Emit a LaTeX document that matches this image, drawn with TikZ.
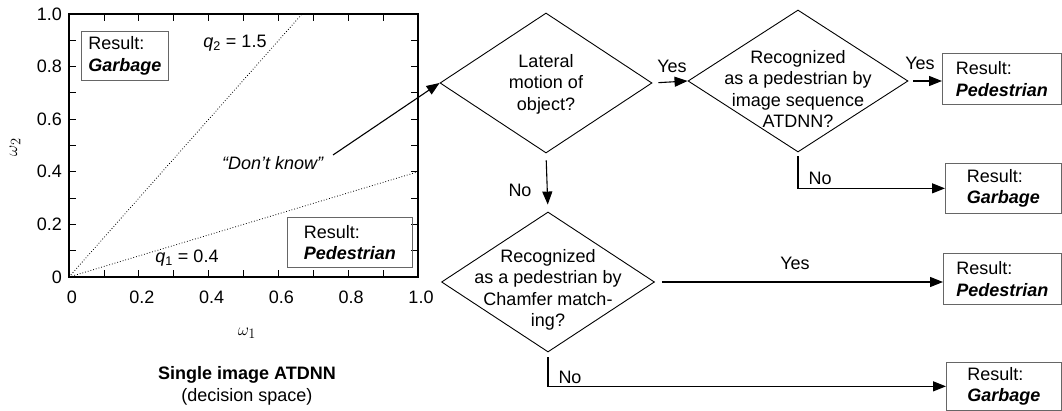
\documentclass[tikz,border=0pt]{standalone}
\usepackage{fontspec}
\setmainfont{Liberation Sans}
\usetikzlibrary{shapes.geometric,arrows.meta}
\begin{document}
\begin{tikzpicture}[x=1pt,y=-1pt,
  every node/.style={font=\fontsize{18}{21.5}\selectfont},
  dia/.style={diamond, draw, line width=0.9pt, inner sep=0pt},
  resbox/.style={draw=black!60, line width=0.7pt, align=left, anchor=north west, inner sep=0pt},
  arr/.style={line width=1.1pt, -{Triangle[length=13pt,width=10pt]}},
  tickline/.style={line width=0.8pt},
  small/.style={font=\fontsize{19}{21}\selectfont}
]
\useasboundingbox (0,0) rectangle (1062,411);

% ---------- decision space plot ----------
\coordinate (o) at (69,277);
\draw[line width=1.1pt] (69,14) rectangle (418,277);
\foreach \i in {1,...,9} {
  \draw[tickline] (69+34.9*\i,277) -- ++(0,-7);
  \draw[tickline] (69+34.9*\i,14) -- ++(0,7);
  \draw[tickline] (69,277-26.3*\i) -- ++(7,0);
  \draw[tickline] (418,277-26.3*\i) -- ++(-7,0);
}
\foreach \v/\t in {0/0,1/0.2,2/0.4,3/0.6,4/0.8,5/1.0} {
  \node[anchor=east, inner sep=0pt] (yl\v) at (62,277-52.6*\v) {\t};
  \node (xl\v) at (72+69.8*\v,297) {\t};
}
\node[rotate=90, small] (w2) at (15,147) {$\omega_2$};
\node[small] (w1) at (247,333) {$\omega_1$};
\node (title) at (247,375) {\textbf{Single image ATDNN}};
\node (sub) at (247,397) {(decision space)};

\coordinate (q2end) at (302,14);
\coordinate (q1end) at (418,171.8);
\draw[dotted, line width=0.8pt] (o) -- (q2end);
\draw[dotted, line width=0.8pt] (o) -- (q1end);
\node (q2) at (235,43) {\textit{q}\textsubscript{2} = 1.5};
\node (q1) at (187,258) {\textit{q}\textsubscript{1} = 0.4};

\node[resbox, minimum width=87pt, minimum height=49pt] (pg) at (81,31) {Result:\\\textbf{\textit{Garbage}}};
\node[resbox, minimum width=125pt, minimum height=50pt] (pp) at (287,217) {Result:\\\textbf{\textit{Pedestrian}}};

\node (dk) at (273,163) {\textit{``Don't know''}};
\coordinate (dkend) at (333,155);

% ---------- flow chart ----------
\node[dia, minimum width=212pt, minimum height=140pt] (d1) at (546,83) {};
\node[align=center] (t1) at (546,84) {Lateral\\motion of\\object?};
\node[dia, minimum width=220pt, minimum height=142pt] (d2) at (798,81) {};
\node[align=center] (t2) at (798,89) {Recognized\\as a pedestrian by\\image sequence\\ATDNN?};
\node[dia, minimum width=213pt, minimum height=140pt] (d3) at (548,282) {};
\node[align=center] (t3) at (548,290) {Recognized\\as a pedestrian by\\Chamfer match-\\ing?};

\node[resbox, minimum width=119pt, minimum height=51pt] (r1) at (942,53) {Result:\\\textbf{\textit{Pedestrian}}};
\node[resbox, minimum width=116pt, minimum height=50pt] (g1) at (945,163) {Result:\\\textbf{\textit{Garbage}}};
\node[resbox, minimum width=118pt, minimum height=51pt] (r2) at (943,253) {Result:\\\textbf{\textit{Pedestrian}}};
\node[resbox, minimum width=115pt, minimum height=48pt] (g2) at (946,362) {Result:\\\textbf{\textit{Garbage}}};

\draw[arr] (dkend) -- (d1.west);
\draw[arr, shorten <=6pt] (d1.east) -- (d2.west);
\node (y1) at (672,66) {Yes};
\draw[arr, shorten <=5pt] (d2.east) -- (d2.east -| r1.west);
\node (y2) at (920,63) {Yes};
\draw[arr, shorten <=4pt] (d2.south) |- (g1.west);
\node (n2) at (820,178) {No};
\draw[arr, shorten <=7pt, shorten >=7pt] (d1.south) -- (d3.north);
\node (n1) at (520,190) {No};
\draw[arr, shorten <=7pt] (d3.east) -- (d3.east -| r2.west);
\node (y3) at (795,263) {Yes};
\draw[arr, shorten <=5pt] (d3.south) |- (g2.west);
\node (n3) at (570,377) {No};
\end{tikzpicture}
\end{document}
